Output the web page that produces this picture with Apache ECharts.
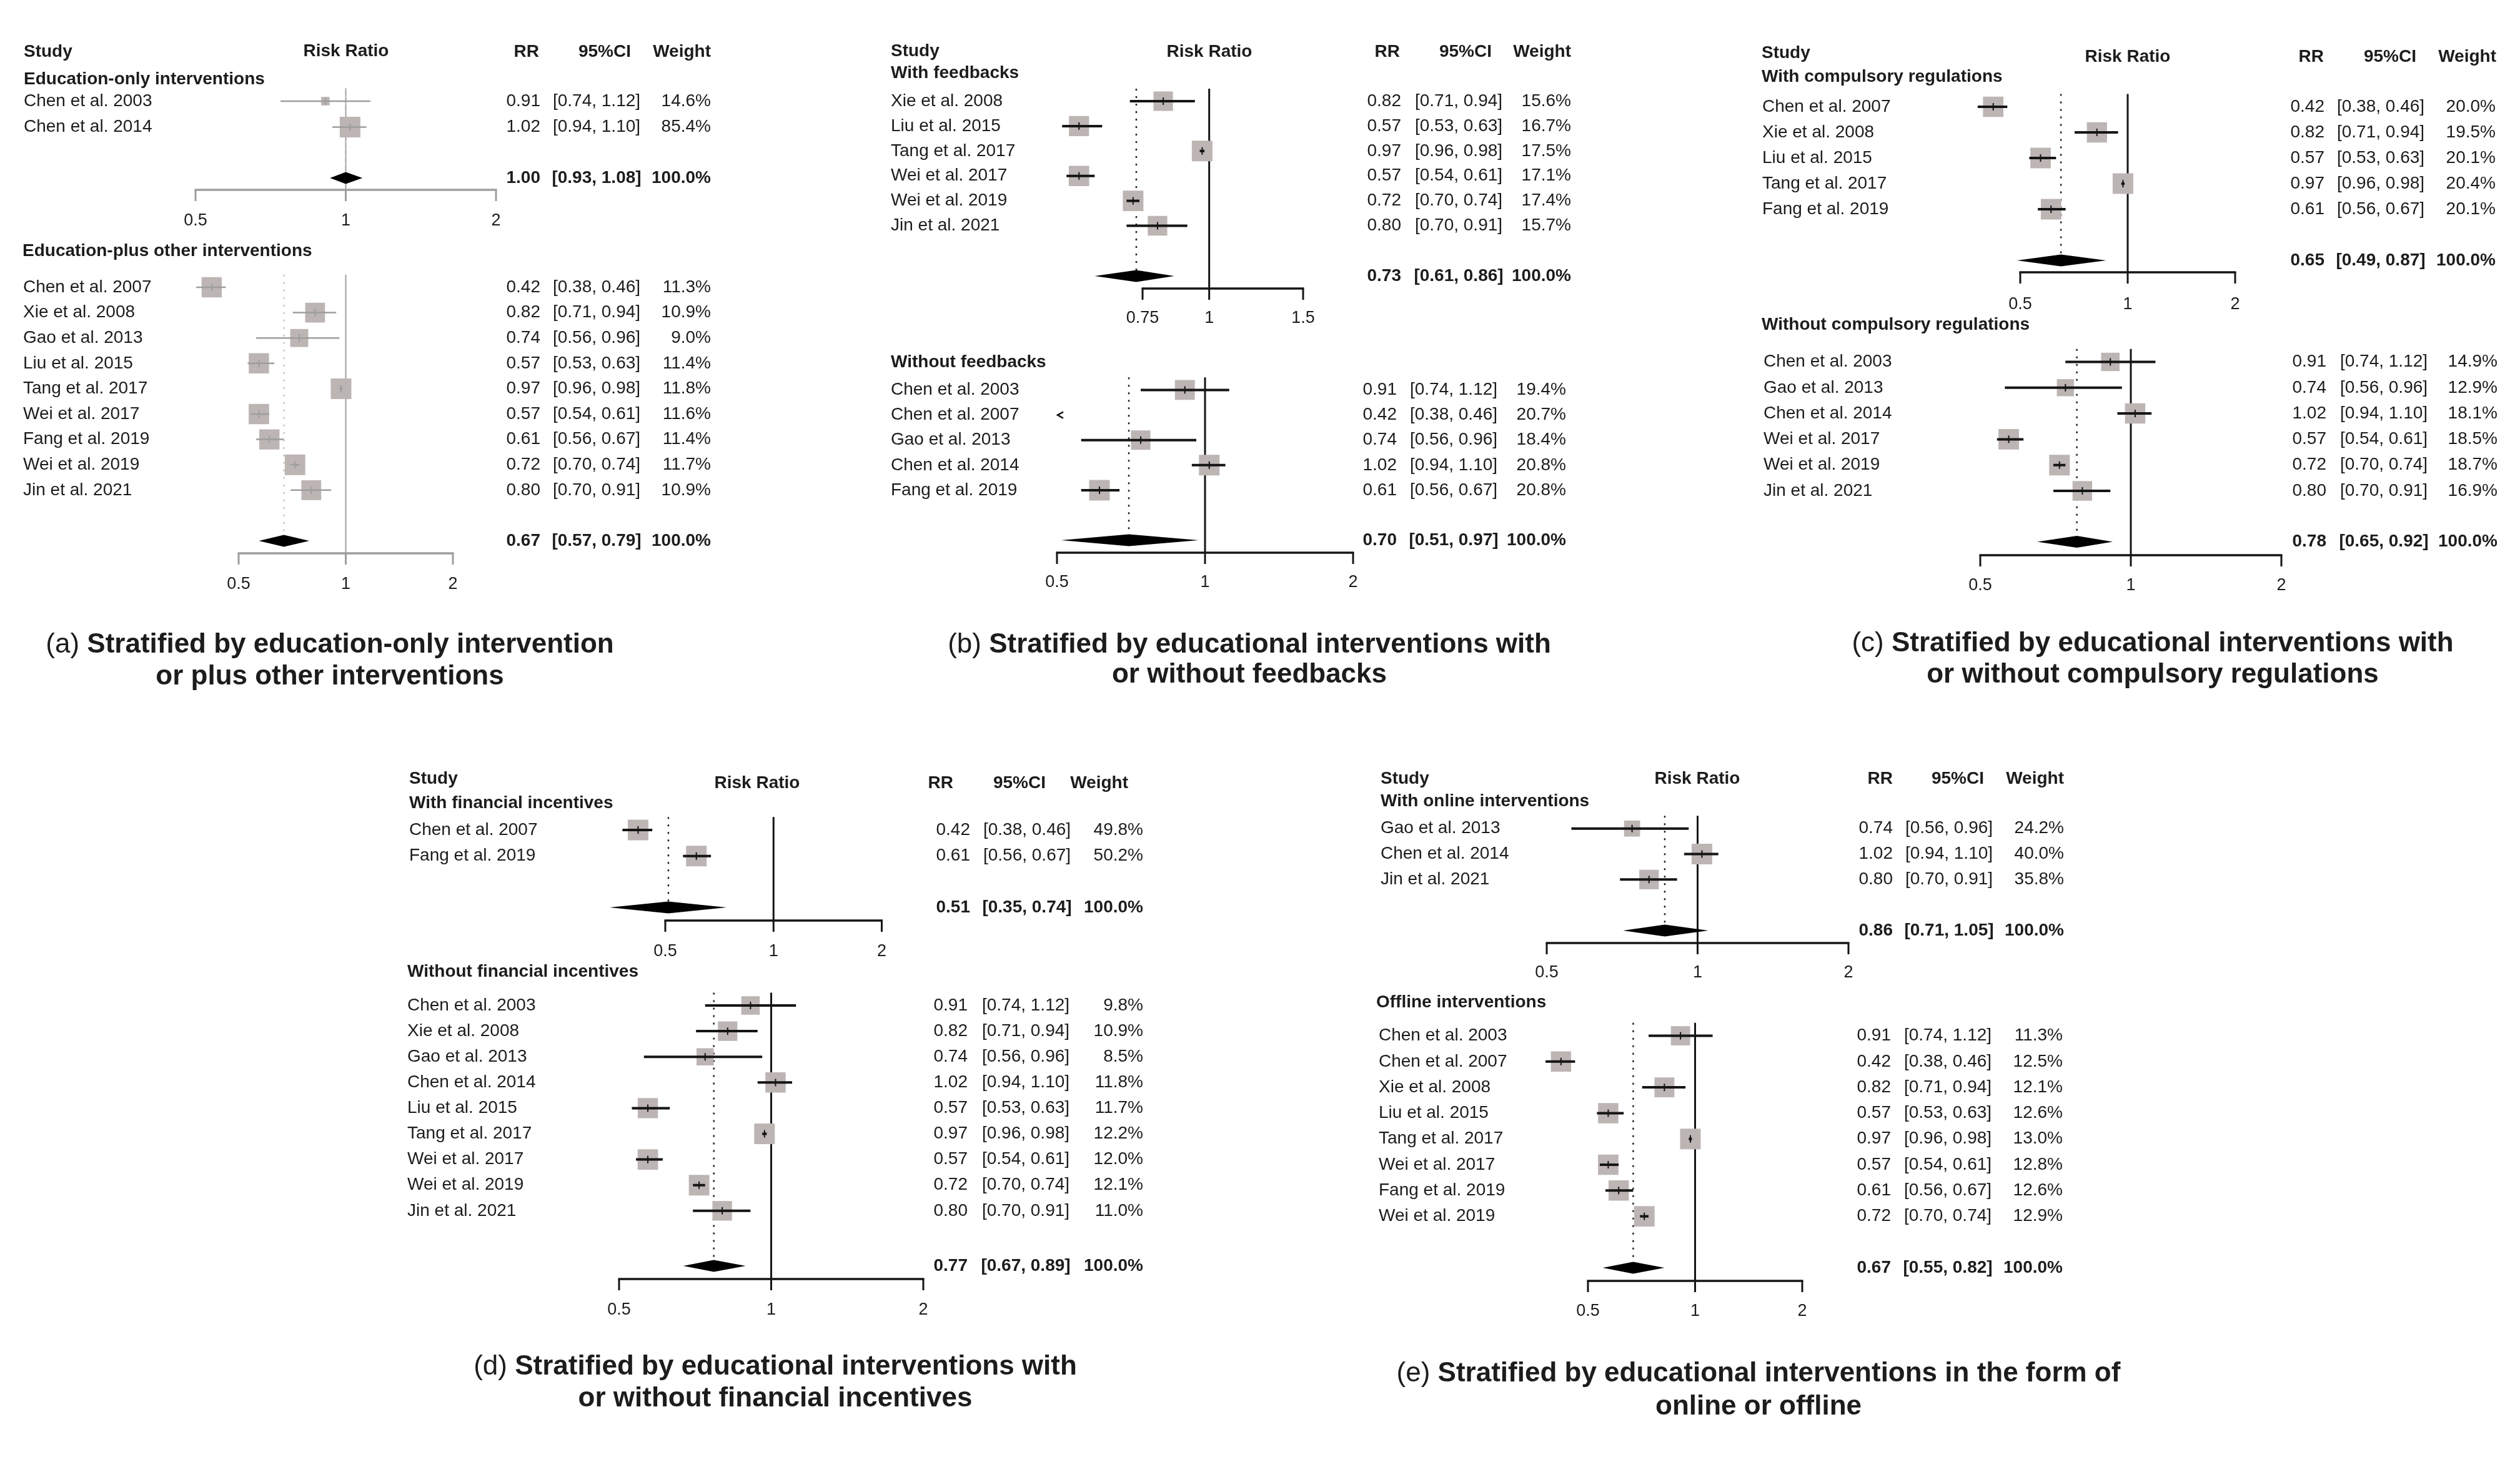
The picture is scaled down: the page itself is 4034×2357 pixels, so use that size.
<!DOCTYPE html>
<html><head><meta charset="utf-8">
<script src="https://cdn.jsdelivr.net/npm/echarts@6/dist/echarts.min.js"></script>
<style>html,body{margin:0;padding:0;background:#fff}#c{width:4034px;height:2357px}</style>
</head><body><div id="c"></div>
<script>
// ===================== DATA =====================
const ticksStd = [0.5, 1, 2];
const tickLabStd = ['0.5', '1', '2'];
const ticksB1 = [0.75, 1, 1.5];
const tickLabB1 = ['0.75', '1', '1.5'];

// (a) education-only
const a1Study = ['Chen et al. 2003', 'Chen et al. 2014'];
const a1RR = [0.91, 1.02];
const a1Lo = [0.74, 0.94];
const a1Hi = [1.12, 1.10];
const a1W = [14.6, 85.4];
const a1Sum = [1.00, 0.93, 1.08];
// (a) education-plus
const a2Study = ['Chen et al. 2007', 'Xie et al. 2008', 'Gao et al. 2013', 'Liu et al. 2015', 'Tang et al. 2017', 'Wei et al. 2017', 'Fang et al. 2019', 'Wei et al. 2019', 'Jin et al. 2021'];
const a2RR = [0.42, 0.82, 0.74, 0.57, 0.97, 0.57, 0.61, 0.72, 0.80];
const a2Lo = [0.38, 0.71, 0.56, 0.53, 0.96, 0.54, 0.56, 0.70, 0.70];
const a2Hi = [0.46, 0.94, 0.96, 0.63, 0.98, 0.61, 0.67, 0.74, 0.91];
const a2W = [11.3, 10.9, 9.0, 11.4, 11.8, 11.6, 11.4, 11.7, 10.9];
const a2Sum = [0.67, 0.57, 0.79];
// (b) with feedbacks
const b1Study = ['Xie et al. 2008', 'Liu et al. 2015', 'Tang et al. 2017', 'Wei et al. 2017', 'Wei et al. 2019', 'Jin et al. 2021'];
const b1RR = [0.82, 0.57, 0.97, 0.57, 0.72, 0.80];
const b1Lo = [0.71, 0.53, 0.96, 0.54, 0.70, 0.70];
const b1Hi = [0.94, 0.63, 0.98, 0.61, 0.74, 0.91];
const b1W = [15.6, 16.7, 17.5, 17.1, 17.4, 15.7];
const b1Sum = [0.73, 0.61, 0.86];
// (b) without feedbacks
const b2Study = ['Chen et al. 2003', 'Chen et al. 2007', 'Gao et al. 2013', 'Chen et al. 2014', 'Fang et al. 2019'];
const b2RR = [0.91, 0.42, 0.74, 1.02, 0.61];
const b2Lo = [0.74, 0.38, 0.56, 0.94, 0.56];
const b2Hi = [1.12, 0.46, 0.96, 1.10, 0.67];
const b2W = [19.4, 20.7, 18.4, 20.8, 20.8];
const b2Sum = [0.70, 0.51, 0.97];
// (c) with compulsory regulations
const c1Study = ['Chen et al. 2007', 'Xie et al. 2008', 'Liu et al. 2015', 'Tang et al. 2017', 'Fang et al. 2019'];
const c1RR = [0.42, 0.82, 0.57, 0.97, 0.61];
const c1Lo = [0.38, 0.71, 0.53, 0.96, 0.56];
const c1Hi = [0.46, 0.94, 0.63, 0.98, 0.67];
const c1W = [20.0, 19.5, 20.1, 20.4, 20.1];
const c1Sum = [0.65, 0.49, 0.87];
// (c) without compulsory regulations
const c2Study = ['Chen et al. 2003', 'Gao et al. 2013', 'Chen et al. 2014', 'Wei et al. 2017', 'Wei et al. 2019', 'Jin et al. 2021'];
const c2RR = [0.91, 0.74, 1.02, 0.57, 0.72, 0.80];
const c2Lo = [0.74, 0.56, 0.94, 0.54, 0.70, 0.70];
const c2Hi = [1.12, 0.96, 1.10, 0.61, 0.74, 0.91];
const c2W = [14.9, 12.9, 18.1, 18.5, 18.7, 16.9];
const c2Sum = [0.78, 0.65, 0.92];
// (d) with financial incentives
const d1Study = ['Chen et al. 2007', 'Fang et al. 2019'];
const d1RR = [0.42, 0.61];
const d1Lo = [0.38, 0.56];
const d1Hi = [0.46, 0.67];
const d1W = [49.8, 50.2];
const d1Sum = [0.51, 0.35, 0.74];
// (d) without financial incentives
const d2Study = ['Chen et al. 2003', 'Xie et al. 2008', 'Gao et al. 2013', 'Chen et al. 2014', 'Liu et al. 2015', 'Tang et al. 2017', 'Wei et al. 2017', 'Wei et al. 2019', 'Jin et al. 2021'];
const d2RR = [0.91, 0.82, 0.74, 1.02, 0.57, 0.97, 0.57, 0.72, 0.80];
const d2Lo = [0.74, 0.71, 0.56, 0.94, 0.53, 0.96, 0.54, 0.70, 0.70];
const d2Hi = [1.12, 0.94, 0.96, 1.10, 0.63, 0.98, 0.61, 0.74, 0.91];
const d2W = [9.8, 10.9, 8.5, 11.8, 11.7, 12.2, 12.0, 12.1, 11.0];
const d2Sum = [0.77, 0.67, 0.89];
// (e) online
const e1Study = ['Gao et al. 2013', 'Chen et al. 2014', 'Jin et al. 2021'];
const e1RR = [0.74, 1.02, 0.80];
const e1Lo = [0.56, 0.94, 0.70];
const e1Hi = [0.96, 1.10, 0.91];
const e1W = [24.2, 40.0, 35.8];
const e1Sum = [0.86, 0.71, 1.05];
// (e) offline
const e2Study = ['Chen et al. 2003', 'Chen et al. 2007', 'Xie et al. 2008', 'Liu et al. 2015', 'Tang et al. 2017', 'Wei et al. 2017', 'Fang et al. 2019', 'Wei et al. 2019'];
const e2RR = [0.91, 0.42, 0.82, 0.57, 0.97, 0.57, 0.61, 0.72];
const e2Lo = [0.74, 0.38, 0.71, 0.53, 0.96, 0.54, 0.56, 0.70];
const e2Hi = [1.12, 0.46, 0.94, 0.63, 0.98, 0.61, 0.67, 0.74];
const e2W = [11.3, 12.5, 12.1, 12.6, 13.0, 12.8, 12.6, 12.9];
const e2Sum = [0.67, 0.55, 0.82];

const groupLabels = {
  a1: 'Education-only interventions', a2: 'Education-plus other interventions',
  b1: 'With feedbacks', b2: 'Without feedbacks',
  c1: 'With compulsory regulations', c2: 'Without compulsory regulations',
  d1: 'With financial incentives', d2: 'Without financial incentives',
  e1: 'With online interventions', e2: 'Offline interventions'
};
const captions = {
  a: ['(a)', 'Stratified by education-only intervention', 'or plus other interventions'],
  b: ['(b)', 'Stratified by educational interventions with', 'or without feedbacks'],
  c: ['(c)', 'Stratified by educational interventions with', 'or without compulsory regulations'],
  d: ['(d)', 'Stratified by educational interventions with', 'or without financial incentives'],
  e: ['(e)', 'Stratified by educational interventions in the form of', 'online or offline']
};
const headerTexts = ['Study', 'Risk Ratio', 'RR', '95%CI', 'Weight'];

// ===================== LAYOUT (pixels) =====================
const FONT = '"Liberation Sans", Arial, Helvetica, sans-serif';
const TXT = '#1c1c1c';
const BOX = '#bcb5b3';
const BOXMAX = 33;

const layout = {
  a1: {row1: 162, gap: 41.5, sumY: 285, axisY: 304, labelY: 354, xp: [313, 794], studyX: 38, rrR: 865, ciC: 955, wR: 1138, gray: true, labX: 38, labY: 127},
  a2: {row1: 460, gap: 40.6, sumY: 866, axisY: 886, labelY: 936, xp: [382, 725], studyX: 37, rrR: 865, ciC: 955, wR: 1138, gray: true, labX: 36, labY: 402},
  b1: {row1: 162, gap: 39.9, sumY: 442, axisY: 462, labelY: 510, xp: [1829, 2086], studyX: 1426, rrR: 2243, ciC: 2335, wR: 2515, labX: 1426, labY: 117},
  b2: {row1: 624.4, gap: 40.15, sumY: 865, axisY: 885, labelY: 933, xp: [1692, 2166], studyX: 1426, rrR: 2236, ciC: 2327, wR: 2507, clipLo: 0.5, labX: 1426, labY: 580},
  c1: {row1: 171, gap: 41, sumY: 417, axisY: 436, labelY: 488, xp: [3234, 3578], studyX: 2821, rrR: 3721, ciC: 3811, wR: 3995, labX: 2820, labY: 123},
  c2: {row1: 579.5, gap: 41.3, sumY: 867.6, axisY: 889, labelY: 938, xp: [3170, 3652], studyX: 2823, rrR: 3724, ciC: 3816, wR: 3998, labX: 2820, labY: 520},
  d1: {row1: 1329, gap: 41.7, sumY: 1453, axisY: 1474, labelY: 1524, xp: [1065, 1411.5], studyX: 655, rrR: 1553, ciC: 1644, wR: 1830, labX: 655, labY: 1286},
  d2: {row1: 1610, gap: 41.1, sumY: 2027, axisY: 2048, labelY: 2098, xp: [991, 1478], studyX: 652, rrR: 1549, ciC: 1642, wR: 1830, labX: 652, labY: 1556},
  e1: {row1: 1326.7, gap: 40.8, sumY: 1490, axisY: 1510, labelY: 1558, xp: [2476, 2959], studyX: 2210, rrR: 3030, ciC: 3120, wR: 3304, labX: 2210, labY: 1283},
  e2: {row1: 1658.5, gap: 41.3, sumY: 2030, axisY: 2051, labelY: 2100, xp: [2542, 2885], studyX: 2207, rrR: 3027, ciC: 3118, wR: 3302, labX: 2203, labY: 1605}
};
// header positions: [studyX, studyY, rrCenterX, rrY, rrHeadRight, ciHeadRight, wHeadRight, colY]
const headerLayout = {
  a: [38, 83, 554, 82, 863, 1010, 1138, 83],
  b: [1426, 82, 1936, 83, 2241, 2388, 2515, 83],
  c: [2820, 85, 3406, 91, 3720, 3868, 3996, 91],
  d: [655, 1247, 1212, 1254, 1526, 1674, 1806, 1254],
  e: [2210, 1247, 2717, 1247, 3030, 3176, 3304, 1247]
};
const captionLayout = {
  a: [528, 1033, 1084], b: [2000, 1033, 1081], c: [3446, 1031, 1081], d: [1241, 2189, 2240], e: [2815, 2200, 2253]
};

// ===================== BUILD =====================
const groups = [
  {id: 'a1', study: a1Study, rr: a1RR, lo: a1Lo, hi: a1Hi, w: a1W, sum: a1Sum, ticks: ticksStd, tickLab: tickLabStd},
  {id: 'a2', study: a2Study, rr: a2RR, lo: a2Lo, hi: a2Hi, w: a2W, sum: a2Sum, ticks: ticksStd, tickLab: tickLabStd},
  {id: 'b1', study: b1Study, rr: b1RR, lo: b1Lo, hi: b1Hi, w: b1W, sum: b1Sum, ticks: ticksB1, tickLab: tickLabB1},
  {id: 'b2', study: b2Study, rr: b2RR, lo: b2Lo, hi: b2Hi, w: b2W, sum: b2Sum, ticks: ticksStd, tickLab: tickLabStd},
  {id: 'c1', study: c1Study, rr: c1RR, lo: c1Lo, hi: c1Hi, w: c1W, sum: c1Sum, ticks: ticksStd, tickLab: tickLabStd},
  {id: 'c2', study: c2Study, rr: c2RR, lo: c2Lo, hi: c2Hi, w: c2W, sum: c2Sum, ticks: ticksStd, tickLab: tickLabStd},
  {id: 'd1', study: d1Study, rr: d1RR, lo: d1Lo, hi: d1Hi, w: d1W, sum: d1Sum, ticks: ticksStd, tickLab: tickLabStd},
  {id: 'd2', study: d2Study, rr: d2RR, lo: d2Lo, hi: d2Hi, w: d2W, sum: d2Sum, ticks: ticksStd, tickLab: tickLabStd},
  {id: 'e1', study: e1Study, rr: e1RR, lo: e1Lo, hi: e1Hi, w: e1W, sum: e1Sum, ticks: ticksStd, tickLab: tickLabStd},
  {id: 'e2', study: e2Study, rr: e2RR, lo: e2Lo, hi: e2Hi, w: e2W, sum: e2Sum, ticks: ticksStd, tickLab: tickLabStd}
];

function rowOf(L, py) { return 1 + (py - L.row1) / L.gap; }
function txt(text, x, y, align, bold, size) {
  return {type: 'text', style: {text: text, x: x, y: y, fill: TXT,
    font: (bold ? 'bold ' : '') + (size || 28) + 'px ' + FONT,
    textAlign: align, align: align, textVerticalAlign: 'middle', verticalAlign: 'middle'}};
}
function fmtCI(lo, hi) { return '[' + lo.toFixed(2) + ', ' + hi.toFixed(2) + ']'; }

const grid = [], xAxis = [], yAxis = [], series = [];
groups.forEach(function (g, k) {
  const L = layout[g.id];
  const M = rowOf(L, L.labelY) + 1.5;
  grid.push({left: L.xp[0], width: L.xp[1] - L.xp[0], top: L.row1 - L.gap, height: L.gap * M, containLabel: false, outerBoundsMode: 'none'});
  xAxis.push({type: 'log', logBase: 2, gridIndex: k, min: g.ticks[0], max: g.ticks[g.ticks.length - 1], show: false});
  yAxis.push({type: 'value', gridIndex: k, min: 0, max: M, inverse: true, show: false});
  const lineCol = L.gray ? '#9e9e9e' : '#151515';
  const maxW = Math.max.apply(null, g.w);
  const sumRow = rowOf(L, L.sumY), axisRow = rowOf(L, L.axisY), labRow = rowOf(L, L.labelY);

  // frame: reference line, summary dotted line, axis, ticks
  series.push({type: 'custom', xAxisIndex: k, yAxisIndex: k, silent: true, z: 1, clip: false,
    data: [[1, 0]],
    renderItem: function (params, api) {
      const top = api.coord([1, 0.5]);
      const ax = api.coord([1, axisRow]);
      const sp = api.coord([g.sum[0], sumRow]);
      const ch = [];
      ch.push({type: 'line', shape: {x1: top[0], y1: top[1], x2: ax[0], y2: ax[1]}, style: {stroke: lineCol, lineWidth: L.gray ? 2 : 3}});
      ch.push({type: 'line', shape: {x1: sp[0], y1: top[1], x2: sp[0], y2: sp[1] - 9}, style: {stroke: L.gray ? '#c9c9c9' : '#222', lineWidth: 2.5, lineDash: [3, 9]}});
      const t0 = api.coord([g.ticks[0], axisRow]);
      const t1 = api.coord([g.ticks[g.ticks.length - 1], axisRow]);
      ch.push({type: 'line', shape: {x1: t0[0] - 1.5, y1: ax[1], x2: t1[0] + 1.5, y2: ax[1]}, style: {stroke: lineCol, lineWidth: 3.5}});
      g.ticks.forEach(function (t, j) {
        const p = api.coord([t, axisRow]);
        const lp = api.coord([t, labRow]);
        ch.push({type: 'line', shape: {x1: p[0], y1: p[1], x2: p[0], y2: p[1] + 18}, style: {stroke: lineCol, lineWidth: 3}});
        ch.push(txt(g.tickLab[j], lp[0], lp[1], 'center', false, 27));
      });
      return {type: 'group', children: ch};
    }
  });

  // studies
  series.push({type: 'custom', xAxisIndex: k, yAxisIndex: k, silent: true, z: 2, clip: false,
    data: g.rr.map(function (v, i) { return [v, i + 1, g.lo[i], g.hi[i], g.w[i]]; }),
    renderItem: function (params, api) {
      const i = params.dataIndex;
      const row = i + 1;
      const p = api.coord([g.rr[i], row]);
      const y = p[1];
      const ch = [];
      if (L.clipLo && g.hi[i] < L.clipLo) {
        const a = api.coord([L.clipLo, row]);
        ch.push({type: 'polyline', shape: {points: [[a[0] + 10, y - 5], [a[0] + 1, y], [a[0] + 10, y + 5]]}, style: {stroke: '#151515', lineWidth: 2.5, fill: null}});
      } else {
        const pl = api.coord([g.lo[i], row])[0], ph = api.coord([g.hi[i], row])[0];
        const s = BOXMAX * Math.sqrt(g.w[i] / maxW);
        ch.push({type: 'rect', shape: {x: p[0] - s / 2, y: y - s / 2, width: s, height: s}, style: {fill: BOX}});
        ch.push({type: 'line', shape: {x1: pl, y1: y, x2: ph, y2: y}, style: {stroke: lineCol, lineWidth: L.gray ? 2.5 : 4}});
        ch.push({type: 'line', shape: {x1: p[0], y1: y - 6, x2: p[0], y2: y + 6}, style: {stroke: lineCol, lineWidth: 2}});
      }
      ch.push(txt(g.study[i], L.studyX, y, 'left', false));
      ch.push(txt(g.rr[i].toFixed(2), L.rrR, y, 'right', false));
      ch.push(txt(fmtCI(g.lo[i], g.hi[i]), L.ciC, y, 'center', false));
      ch.push(txt(g.w[i].toFixed(1) + '%', L.wR, y, 'right', false));
      return {type: 'group', children: ch};
    }
  });

  // summary diamond
  series.push({type: 'custom', xAxisIndex: k, yAxisIndex: k, silent: true, z: 3, clip: false,
    data: [[g.sum[0], sumRow, g.sum[1], g.sum[2]]],
    renderItem: function (params, api) {
      const c = api.coord([g.sum[0], sumRow]);
      const l = api.coord([g.sum[1], sumRow]);
      const h = api.coord([g.sum[2], sumRow]);
      const y = c[1];
      const ch = [];
      ch.push({type: 'polygon', shape: {points: [[l[0], y], [c[0], y - 9.5], [h[0], y], [c[0], y + 9.5]]}, style: {fill: '#000'}});
      ch.push(txt(g.sum[0].toFixed(2), L.rrR, y, 'right', true));
      ch.push(txt(fmtCI(g.sum[1], g.sum[2]), L.ciC, y, 'center', true));
      ch.push(txt('100.0%', L.wR, y, 'right', true));
      return {type: 'group', children: ch};
    }
  });
});

// ---------- graphic texts: headers, group labels, captions ----------
const graphic = [];
function gtxt(text, x, y, align, bold, size) {
  graphic.push({type: 'text', x: x, y: y, silent: true, style: {text: text, fill: TXT,
    font: (bold ? 'bold ' : '') + (size || 28) + 'px ' + FONT,
    textAlign: align, align: align, textVerticalAlign: 'middle', verticalAlign: 'middle'}});
}
Object.keys(headerLayout).forEach(function (p) {
  const h = headerLayout[p];
  gtxt(headerTexts[0], h[0], h[1], 'left', true);
  gtxt(headerTexts[1], h[2], h[3], 'center', true);
  gtxt(headerTexts[2], h[4], h[7], 'right', true);
  gtxt(headerTexts[3], h[5], h[7], 'right', true);
  gtxt(headerTexts[4], h[6], h[7], 'right', true);
});
Object.keys(groupLabels).forEach(function (id) {
  const L = layout[id];
  gtxt(groupLabels[id], L.labX, L.labY, 'left', true);
});
Object.keys(captions).forEach(function (p) {
  const c = captions[p], cl = captionLayout[p];
  graphic.push({type: 'text', x: cl[0], y: cl[1], silent: true, style: {
    text: '{n|' + c[0] + ' }{b|' + c[1] + '}',
    textAlign: 'center', align: 'center', textVerticalAlign: 'middle', verticalAlign: 'middle',
    rich: {n: {font: '44px ' + FONT, fill: TXT}, b: {font: 'bold 44px ' + FONT, fill: TXT}}}});
  gtxt(c[2], cl[0], cl[2], 'center', true, 44);
});

const chart = echarts.init(document.getElementById('c'));
chart.setOption({
  backgroundColor: '#ffffff',
  animation: false,
  grid: grid, xAxis: xAxis, yAxis: yAxis,
  series: series,
  graphic: graphic
});
</script>
</body></html>
